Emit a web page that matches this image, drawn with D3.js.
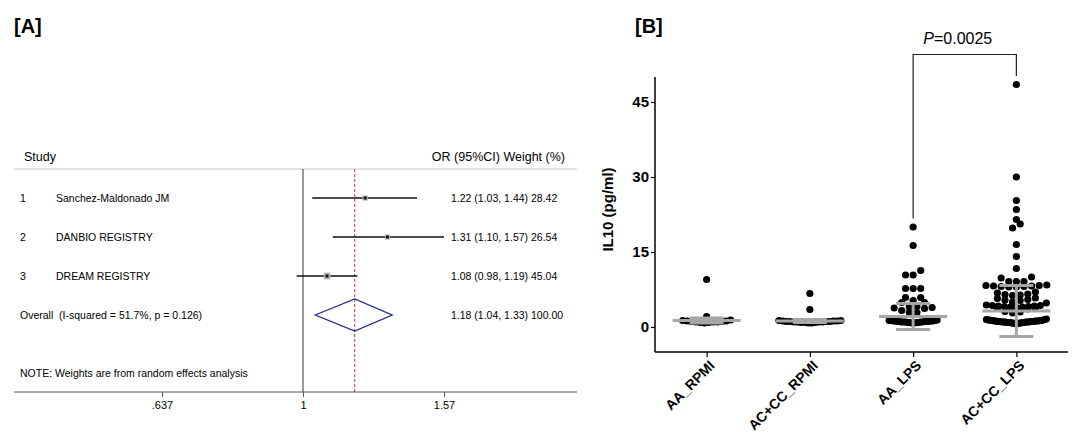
<!DOCTYPE html>
<html>
<head>
<meta charset="utf-8">
<script src="https://cdn.jsdelivr.net/npm/d3@7"></script>
<style>
body { margin: 0; background: #fff; }
svg text { font-family: "Liberation Sans", Arial, sans-serif; }
</style>
</head>
<body>
<svg id="chart" width="1073" height="434"></svg>
<script>
// ---- panel A: forest plot data ----
var studyNames = ["Sanchez-Maldonado JM", "DANBIO REGISTRY", "DREAM REGISTRY"];
var studyOR = [1.22, 1.31, 1.08];
var studyLow = [1.03, 1.10, 0.98];
var studyHigh = [1.44, 1.57, 1.19];
var studyWeight = [28.42, 26.54, 45.04];
var overallEst = [1.18, 1.04, 1.33, 100.00];   // OR, low, high, weight
var heterogeneity = [51.7, 0.126];             // I-squared %, p
var forestTicks = [0.637, 1, 1.57];
var forestTickLabels = [".637", "1", "1.57"];

// ---- panel B: IL10 scatter data ----
var groups = ["AA_RPMI", "AC+CC_RPMI", "AA_LPS", "AC+CC_LPS"];
var valsAA_RPMI = [9.5, 2.1, 1.4, 1.3, 1.2, 1.2, 1.1, 1.1, 1.0, 1.0, 1.0, 0.9, 0.9, 0.8];
var valsACCC_RPMI = [6.7, 3.5, 1.3, 1.3, 1.2, 1.2, 1.2, 1.1, 1.1, 1.1, 1.1, 1.0, 1.0,
    1.0, 1.0, 0.9, 0.9, 0.9, 0.8, 0.8];
var valsAA_LPS = [20.0, 16.3, 11.3, 10.4, 10.4, 7.7, 7.7, 7.7, 5.9, 5.9, 5.3, 4.9, 4.9,
    4.1, 4.0, 3.9, 3.8, 3.7, 3.3, 2.9, 2.9,
    1.4, 1.3, 1.3, 1.3, 1.2, 1.2, 1.2, 1.2, 1.1, 1.1, 1.1, 1.1, 1.1, 1.0, 1.0, 1.0,
    1.0, 1.0, 0.9, 0.9, 0.9, 0.9, 0.8, 0.8];
var valsACCC_LPS = [48.5, 30.0, 25.3, 23.5, 21.5, 20.6, 19.8, 16.5, 14.1, 11.7,
    10.0, 9.8, 9.1, 9.1, 9.1,
    8.4, 8.3, 8.3, 8.2, 8.2, 8.1, 8.1, 8.0, 8.0,
    7.0, 6.8, 6.6, 6.5, 6.4, 6.3,
    5.8, 5.7, 5.5, 5.4, 5.3, 5.0, 4.8,
    4.4, 4.3, 4.3, 4.2, 4.2, 4.1, 4.1, 4.0, 4.0, 3.9, 3.8, 3.7, 3.6,
    3.1, 3.0, 2.8,
    1.6, 1.5, 1.5, 1.4, 1.4, 1.4, 1.3, 1.3, 1.3, 1.3, 1.2, 1.2, 1.2, 1.2, 1.2,
    1.1, 1.1, 1.1, 1.1, 1.1, 1.1, 1.0, 1.0, 1.0, 1.0, 1.0, 1.0, 0.9, 0.9, 0.9,
    0.9, 0.9, 0.8, 0.8, 0.8, 0.8, 0.7, 0.7, 0.7];
var groupMean = [1.3, 1.2, 2.1, 3.2];
var groupSD = [0.5, 0.3, 2.6, 5.1];
var yTicks = [0, 15, 30, 45];
var pText = "0.0025";

var svg = d3.select("#chart");

// ================= Panel A =================
var a = svg.append("g");
a.append("text").text("[A]")
    .attr("x", 14).attr("y", 33)
    .style("font-size", "20px").style("font-weight", "bold");

var xF = d3.scaleLog().domain([0.637, 1.57]).range([162, 444]);
var rowY = d3.scalePoint().domain(d3.range(4)).range([198, 315]);
var top_ = 169, bottom_ = 392, left_ = 14, right_ = 577;

a.append("text").text("Study").attr("x", 24).attr("y", 161).style("font-size", "12.5px");
a.append("text").text("OR (95%CI) Weight (%)").attr("x", 565).attr("y", 161)
    .attr("text-anchor", "end").style("font-size", "12.5px");

a.append("line").attr("x1", left_).attr("x2", right_).attr("y1", top_).attr("y2", top_)
    .attr("stroke", "#c8c8c8").attr("stroke-width", 1);

// null line
a.append("line").attr("x1", xF(1)).attr("x2", xF(1)).attr("y1", top_).attr("y2", bottom_)
    .attr("stroke", "#333").attr("stroke-width", 1);
// overall estimate line
a.append("line").attr("x1", xF(overallEst[0])).attr("x2", xF(overallEst[0]))
    .attr("y1", top_).attr("y2", bottom_)
    .attr("stroke", "#b53a3a").attr("stroke-width", 1).attr("stroke-dasharray", "3,2");

// bottom axis
a.append("line").attr("x1", left_).attr("x2", right_).attr("y1", bottom_).attr("y2", bottom_)
    .attr("stroke", "#555").attr("stroke-width", 1);
var fAxis = d3.axisBottom(xF).tickValues(forestTicks)
    .tickFormat(function (d, i) { return forestTickLabels[i]; })
    .tickSize(5).tickPadding(4);
var fa = a.append("g").attr("transform", "translate(0," + bottom_ + ")").call(fAxis);
fa.select(".domain").remove();
fa.selectAll("line").attr("stroke", "#555");
fa.selectAll("text").style("font-size", "11px").style("font-family", "Liberation Sans, Arial, sans-serif");

var wScale = d3.scaleSqrt().domain([0, 100]).range([0, 10]);
var studies = studyNames.map(function (n, i) {
    return { name: n, or: studyOR[i], lo: studyLow[i], hi: studyHigh[i], w: studyWeight[i], i: i };
});

var rows = a.selectAll("g.study").data(studies).enter().append("g").attr("class", "study");
rows.append("text").text(function (d) { return d.i + 1; })
    .attr("x", 20).attr("y", function (d) { return rowY(d.i); })
    .attr("dy", "0.35em").style("font-size", "10.5px");
rows.append("text").text(function (d) { return d.name; })
    .attr("x", 56).attr("y", function (d) { return rowY(d.i); })
    .attr("dy", "0.35em").style("font-size", "10.5px");
rows.append("line")
    .attr("x1", function (d) { return xF(d.lo); }).attr("x2", function (d) { return xF(d.hi); })
    .attr("y1", function (d) { return rowY(d.i); }).attr("y2", function (d) { return rowY(d.i); })
    .attr("stroke", "#111").attr("stroke-width", 1.3);
rows.append("rect")
    .attr("x", function (d) { return xF(d.or) - wScale(d.w) / 2; })
    .attr("y", function (d) { return rowY(d.i) - wScale(d.w) / 2; })
    .attr("width", function (d) { return wScale(d.w); })
    .attr("height", function (d) { return wScale(d.w); })
    .attr("fill", "#b4b4b4");
rows.append("rect")
    .attr("x", function (d) { return xF(d.or) - 1.5; })
    .attr("y", function (d) { return rowY(d.i) - 1.5; })
    .attr("width", 3).attr("height", 3).attr("fill", "#111");
rows.append("text")
    .text(function (d) {
        return d.or.toFixed(2) + " (" + d.lo.toFixed(2) + ", " + d.hi.toFixed(2) + ") " + d.w.toFixed(2);
    })
    .attr("x", 451).attr("y", function (d) { return rowY(d.i); })
    .attr("dy", "0.35em").style("font-size", "10.5px");

// overall diamond
var oy = rowY(3);
a.append("path")
    .attr("d", "M" + xF(overallEst[1]) + "," + oy +
        "L" + xF(overallEst[0]) + "," + (oy - 16) +
        "L" + xF(overallEst[2]) + "," + oy +
        "L" + xF(overallEst[0]) + "," + (oy + 16) + "Z")
    .attr("fill", "none").attr("stroke", "#1f2a86").attr("stroke-width", 1.3);
a.append("text")
    .text("Overall  (I-squared = " + heterogeneity[0].toFixed(1) + "%, p = " + heterogeneity[1].toFixed(3) + ")")
    .attr("x", 20).attr("y", oy).attr("dy", "0.35em")
    .style("font-size", "10.5px").style("white-space", "pre");
a.append("text")
    .text(overallEst[0].toFixed(2) + " (" + overallEst[1].toFixed(2) + ", " + overallEst[2].toFixed(2) + ") " + overallEst[3].toFixed(2))
    .attr("x", 451).attr("y", oy).attr("dy", "0.35em").style("font-size", "10.5px");
a.append("text").text("NOTE: Weights are from random effects analysis")
    .attr("x", 20).attr("y", 373).attr("dy", "0.35em").style("font-size", "10.5px");

// ================= Panel B =================
var b = svg.append("g");
b.append("text").text("[B]")
    .attr("x", 635).attr("y", 33)
    .style("font-size", "20px").style("font-weight", "bold");

var yS = d3.scaleLinear().domain([-5, 50]).range([352, 77]);
var xS = d3.scalePoint().domain(groups).range([655, 1068]).padding(0.5);

var yAxis = d3.axisLeft(yS).tickValues(yTicks).tickSize(4).tickPadding(2);
var ya = b.append("g").attr("transform", "translate(655,0)").call(yAxis);
ya.select(".domain").attr("stroke-width", 1.5).attr("d", "M0," + yS(50) + "V" + yS(-5));
ya.selectAll("line").attr("stroke-width", 1.2);
ya.selectAll("text").style("font-size", "15px").style("font-weight", "bold")
    .style("font-family", "Liberation Sans, Arial, sans-serif");

var xAxis = d3.axisBottom(xS).tickSize(5).tickPadding(3);
var xa = b.append("g").attr("transform", "translate(0,352)").call(xAxis);
xa.select(".domain").attr("stroke-width", 1.5).attr("d", "M655,0H1068");
xa.selectAll("line").attr("stroke-width", 1.2);
xa.selectAll("text")
    .style("font-size", "14px").style("font-weight", "bold")
    .style("font-family", "Liberation Sans, Arial, sans-serif")
    .attr("text-anchor", "end")
    .attr("x", 0).attr("y", 0)
    .attr("dy", "0.35em")
    .attr("transform", "translate(5,11) rotate(-45)");

b.append("text").text("IL10 (pg/ml)")
    .attr("transform", "translate(613," + yS(23.5) + ") rotate(-90)")
    .attr("text-anchor", "middle")
    .style("font-size", "15px").style("font-weight", "bold");

// scatter layout: rows of dots spread around the group centre
var R = 3.6, DIAM = 7.6, ROWTOL = 1.0;
var bandHalf = [24, 31, 24, 30];
function layout(vals, gi) {
    var sorted = vals.slice().sort(d3.ascending);
    var rowsB = [], cur = null;
    sorted.forEach(function (v) {
        if (!cur || v - cur[0] > ROWTOL) { cur = []; rowsB.push(cur); }
        cur.push(v);
    });
    var pts = [];
    rowsB.forEach(function (r) {
        var n = r.length;
        var sp = (n - 1) * DIAM <= 62 ? DIAM : 2 * bandHalf[gi] / (n - 1);
        var slots = [];
        for (var i = 0; i < n; i++) slots.push((i - (n - 1) / 2) * sp);
        slots.sort(function (p, q) { return Math.abs(p) - Math.abs(q) || p - q; });
        r.forEach(function (v, i) { pts.push({ v: v, dx: slots[i] }); });
    });
    return pts;
}
var groupVals = [valsAA_RPMI, valsACCC_RPMI, valsAA_LPS, valsACCC_LPS];

groups.forEach(function (g, gi) {
    var cx = xS(g);
    var pts = layout(groupVals[gi], gi);
    b.append("g").selectAll("circle").data(pts).enter().append("circle")
        .attr("cx", function (d) { return cx + d.dx; })
        .attr("cy", function (d) { return yS(d.v); })
        .attr("r", R).attr("fill", "#000");

    var m = groupMean[gi], s = groupSD[gi];
    var eb = b.append("g").attr("stroke", "#a6a6a6").attr("stroke-width", 3);
    eb.append("line").attr("x1", cx).attr("x2", cx).attr("y1", yS(m + s)).attr("y2", yS(m - s));
    eb.append("line").attr("x1", cx - 17).attr("x2", cx + 17).attr("y1", yS(m + s)).attr("y2", yS(m + s));
    eb.append("line").attr("x1", cx - 17).attr("x2", cx + 17).attr("y1", yS(m - s)).attr("y2", yS(m - s));
    eb.append("line").attr("x1", cx - 34).attr("x2", cx + 34).attr("y1", yS(m)).attr("y2", yS(m));
});

// significance bracket between AA_LPS and AC+CC_LPS
var bx1 = xS(groups[2]), bx2 = xS(groups[3]);
var bTop = yS(54.5);
b.append("path")
    .attr("d", "M" + bx1 + "," + yS(d3.max(valsAA_LPS) + 1.7) + "V" + bTop +
        "H" + bx2 + "V" + yS(d3.max(valsACCC_LPS) + 1.7))
    .attr("fill", "none").attr("stroke", "#222").attr("stroke-width", 1.2);
var pt = b.append("text").attr("x", (bx1 + bx2) / 2 - 7).attr("y", 44)
    .attr("text-anchor", "middle").style("font-size", "16px");
pt.append("tspan").text("P").style("font-style", "italic");
pt.append("tspan").text("=" + pText);
</script>
</body>
</html>
